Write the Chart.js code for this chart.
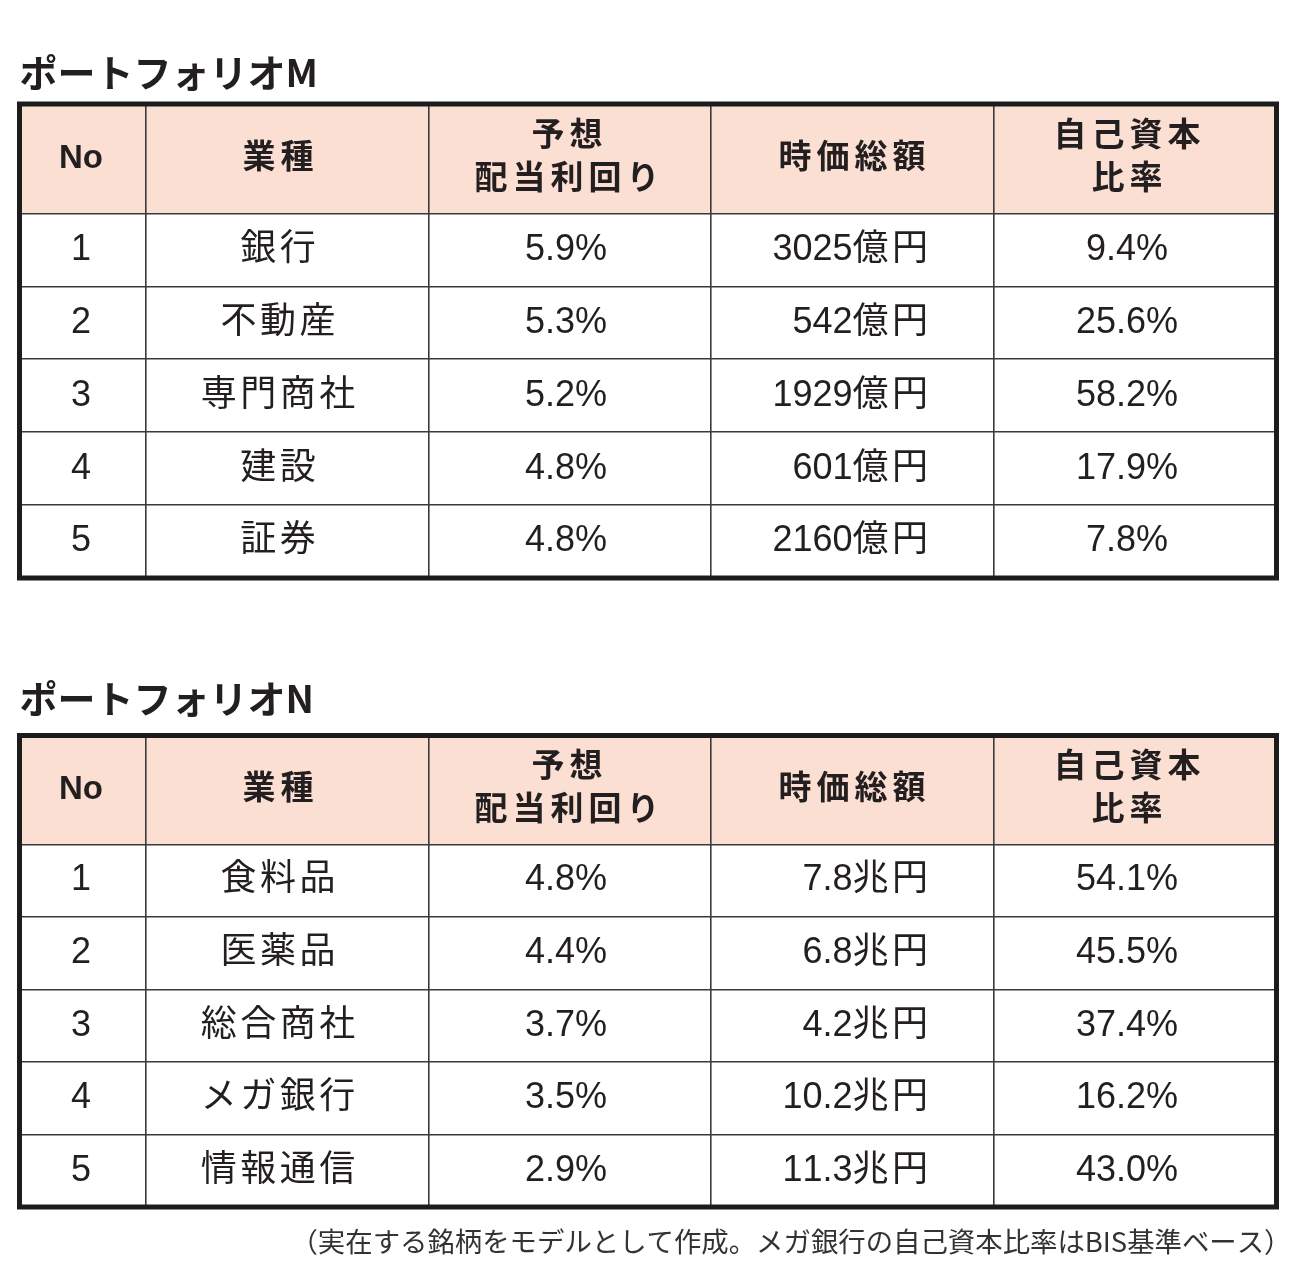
<!DOCTYPE html>
<html lang="ja">
<head>
<meta charset="utf-8">
<title>ポートフォリオM・N</title>
<script src="https://cdn.jsdelivr.net/npm/chart.js@4.4.1/dist/chart.umd.min.js"></script>
<style>
  html, body { margin: 0; padding: 0; background: #fff; }
  body { width: 1300px; height: 1288px; position: relative; overflow: hidden; }
  canvas { position: absolute; left: 0; }
  #tableM { top: 0; }
  #tableN { top: 620px; }
</style>
</head>
<body>
<canvas id="tableM" width="1300" height="600"></canvas>
<canvas id="tableN" width="1300" height="668"></canvas>
<script>
// table content
const headers = ['No', '業種', '予想\n配当利回り', '時価総額', '自己資本\n比率'];
const rankNo = [1, 2, 3, 4, 5];

const sectorsM = ['銀行', '不動産', '専門商社', '建設', '証券'];
const yieldM = [5.9, 5.3, 5.2, 4.8, 4.8];        // %
const capM = [3025, 542, 1929, 601, 2160];       // 億円
const equityM = [9.4, 25.6, 58.2, 17.9, 7.8];    // %

const sectorsN = ['食料品', '医薬品', '総合商社', 'メガ銀行', '情報通信'];
const yieldN = [4.8, 4.4, 3.7, 3.5, 2.9];        // %
const capN = [7.8, 6.8, 4.2, 10.2, 11.3];        // 兆円
const equityN = [54.1, 45.5, 37.4, 16.2, 43.0];  // %

const footnote = '（実在する銘柄をモデルとして作成。メガ銀行の自己資本比率はBIS基準ベース）';

// grid of the table (x in page px, y in row units, header = 1.5 rows)
const colEdges = [19.5, 146, 429, 711, 994, 1276.5];
const rowEdges = [0, 1.5, 2.5, 3.5, 4.5, 5.5, 6.5];
const colAnchor = [81, 278, 566, 928, 1127];
const headerAnchor = [81, 278, 567, 852, 1127];
const colAlign = ['center', 'center', 'center', 'right', 'center'];

const INK = '#231f20';
const CJK = '"Noto Sans CJK JP"';
const LATIN = '"Liberation Sans"';

const pct = v => v.toFixed(1) + '%';
const rowsM = rankNo.map((n, i) => [String(n), sectorsM[i], pct(yieldM[i]), capM[i] + '億円', pct(equityM[i])]);
const rowsN = rankNo.map((n, i) => [String(n), sectorsN[i], pct(yieldN[i]), capN[i].toFixed(1) + '兆円', pct(equityN[i])]);

const isWide = ch => /[\u3000-\u30ff\u3400-\u9fff\uff00-\uffef]/.test(ch);

// kanji/kana in the source are tracked a little wider than the figures
function drawSpaced(ctx, text, x, y, align, gap) {
    const chars = Array.from(text);
    const widths = chars.map(c => ctx.measureText(c).width + (isWide(c) ? gap : 0));
    let total = widths.reduce((a, b) => a + b, 0);
    if (isWide(chars[chars.length - 1])) total -= gap;
    let cx = align === 'center' ? x - total / 2 : align === 'right' ? x - total : x;
    ctx.textAlign = 'left';
    chars.forEach((c, i) => {
        ctx.fillText(c, cx, y);
        cx += widths[i];
    });
}

const makeTablePlugin = (rows, note) => ({
    id: 'tableCells',
    beforeDraw(chart) {
        const { ctx, scales: { x, y } } = chart;
        const top = y.getPixelForValue(rowEdges[0]);
        const bottom = y.getPixelForValue(rowEdges[1]);
        const left = x.getPixelForValue(colEdges[0]);
        const right = x.getPixelForValue(colEdges[colEdges.length - 1]);
        ctx.save();
        ctx.fillStyle = '#fadfd2';
        ctx.fillRect(left, top, right - left, bottom - top);
        ctx.restore();
    },
    afterDraw(chart) {
        const { ctx, scales: { x, y } } = chart;
        ctx.save();
        ctx.fillStyle = INK;
        ctx.textBaseline = 'middle';

        // header
        ctx.font = `bold 33px ${LATIN}, ${CJK}`;
        const headY = y.getPixelForValue((rowEdges[0] + rowEdges[1]) / 2);
        headers.forEach((h, c) => {
            const lines = h.split('\n');
            lines.forEach((line, k) => {
                const dy = (k - (lines.length - 1) / 2) * 43;
                drawSpaced(ctx, line, x.getPixelForValue(headerAnchor[c]), headY + dy, 'center', 5);
            });
        });

        // body
        ctx.font = `36px ${LATIN}, ${CJK}`;
        rows.forEach((row, r) => {
            const cy = y.getPixelForValue((rowEdges[r + 1] + rowEdges[r + 2]) / 2);
            row.forEach((cell, c) => {
                drawSpaced(ctx, cell, x.getPixelForValue(colAnchor[c]), cy, colAlign[c], 3.5);
            });
        });

        // heavy outer frame
        const left = x.getPixelForValue(colEdges[0]);
        const right = x.getPixelForValue(colEdges[colEdges.length - 1]);
        const top = y.getPixelForValue(rowEdges[0]);
        const bottom = y.getPixelForValue(rowEdges[rowEdges.length - 1]);
        ctx.strokeStyle = '#1c1c1c';
        ctx.lineWidth = 5;
        ctx.strokeRect(left, top, right - left, bottom - top);

        // note under the table, flush right
        if (note) {
            ctx.font = `27.4px ${CJK}`;
            ctx.fillStyle = '#333';
            ctx.textAlign = 'right';
            ctx.fillText(note, right + 15, bottom + 35);
        }
        ctx.restore();
    }
});

const gridScale = (min, max, edges, reverse) => ({
    type: 'linear',
    min: min,
    max: max,
    reverse: reverse,
    offset: false,
    ticks: { display: false },
    border: { display: false },
    grid: { drawTicks: false, offset: false, color: '#3a3a3a', lineWidth: 1.6 },
    afterBuildTicks: (scale) => {
        scale.ticks = edges.map(v => ({ value: v }));
    }
});

const drawTable = (canvasId, title, rows, pad, titleGap, note) => {
    const ctx = document.getElementById(canvasId).getContext('2d');
    return new Chart(ctx, {
        type: 'scatter',
        data: { datasets: [] },
        plugins: [makeTablePlugin(rows, note)],
        options: {
            responsive: false,
            animation: false,
            events: [],
            layout: { padding: pad },
            plugins: {
                legend: { display: false },
                tooltip: { enabled: false },
                title: {
                    display: true,
                    text: title,
                    align: 'start',
                    color: INK,
                    font: { family: CJK, size: 38, weight: 'bold', lineHeight: 1.2 },
                    padding: { top: 0, bottom: titleGap }
                }
            },
            scales: {
                x: gridScale(colEdges[0], colEdges[colEdges.length - 1], colEdges, false),
                y: gridScale(rowEdges[0], rowEdges[rowEdges.length - 1], rowEdges, true)
            }
        }
    });
};

drawTable('tableM', 'ポートフォリオM', rowsM,
    { left: 19.5, right: 23.5, top: 49.7, bottom: 22 }, 8.7, null);
drawTable('tableN', 'ポートフォリオN', rowsN,
    { left: 19.5, right: 23.5, top: 56.2, bottom: 81 }, 13.7, footnote);
</script>
</body>
</html>
